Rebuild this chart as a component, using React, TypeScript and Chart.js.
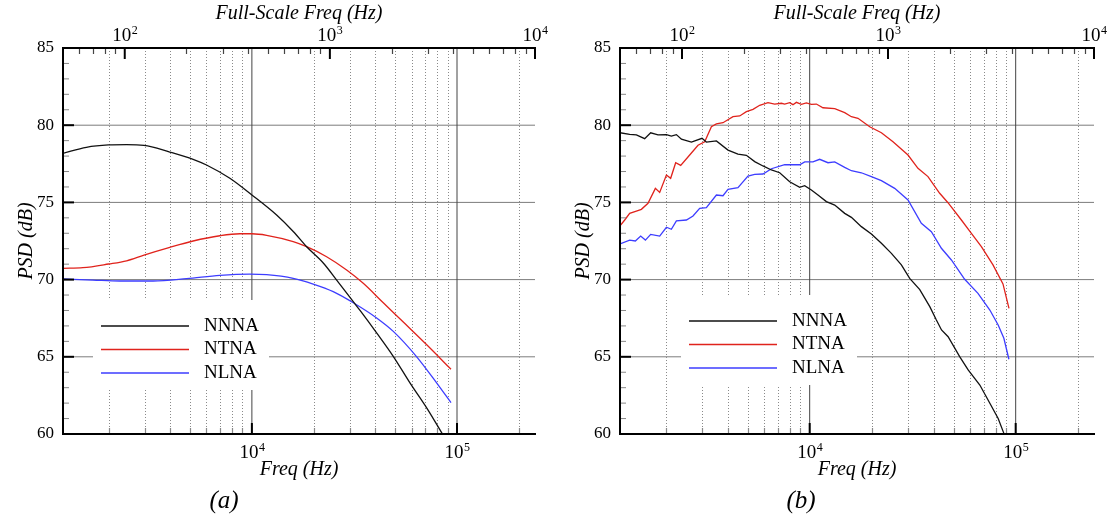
import React, { useEffect, useRef } from 'react';
import { Chart, registerables } from 'chart.js';

Chart.register(...registerables);

const FONT = "'Liberation Serif', 'Times New Roman', Times, serif";
Chart.defaults.font.family = FONT;

// ---------- data ----------
const SERIES_LABELS = ['NNNA', 'NTNA', 'NLNA'];
const SERIES_COLORS = ['#111111', '#e0231c', '#3d3dff'];

const psdTicks = [60, 65, 70, 75, 80, 85];
const freqTickLabels = [1e4, 1e5];
const fullScaleTickLabels = [1e2, 1e3, 1e4];
const FREQ_MIN = 1200;
const FREQ_MAX = 240000;
const FULL_SCALE_RATIO = 24;

// panel (a)
const aNNNAFreq = [1200, 1560, 2000, 2450, 2980, 3980, 5170, 6010, 7810, 10000, 13200, 15950, 18490, 22340, 25900, 31200, 33740, 40720, 49060, 59180, 71390, 84530];
const aNNNAPsd = [78.18, 78.57, 78.72, 78.74, 78.70, 78.26, 77.79, 77.42, 76.56, 75.48, 74.18, 73.10, 72.13, 71.06, 69.97, 68.57, 67.99, 66.52, 65.00, 63.28, 61.66, 60.04];

const aNTNAFreq = [1200, 1500, 2000, 2450, 2980, 3980, 5170, 6980, 8740, 10000, 11800, 15900, 18490, 23140, 28970, 34910, 43710, 54710, 71390, 93480];
const aNTNAPsd = [70.73, 70.77, 71.01, 71.22, 71.59, 72.09, 72.50, 72.84, 72.97, 72.97, 72.87, 72.46, 72.13, 71.48, 70.62, 69.76, 68.50, 67.25, 65.76, 64.19];

const aNLNAFreq = [1200, 1680, 2270, 3300, 4800, 6980, 9780, 11800, 15900, 19910, 24920, 31200, 40720, 49060, 63620, 79860, 93480];
const aNLNAPsd = [70.04, 69.97, 69.91, 69.91, 70.06, 70.28, 70.36, 70.32, 70.08, 69.71, 69.22, 68.50, 67.50, 66.63, 65.00, 63.28, 62.03];

// panel (b)
const bNNNAFreq = [1200, 1337, 1441, 1581, 1691, 1835, 2016, 2131, 2254, 2384, 2666, 3001, 3151, 3525, 4013, 4486, 4928, 5408, 5933, 6520, 7152, 7996, 8944, 9457, 10190, 10970, 12050, 13230, 14790, 15940, 17820, 19930, 22290, 24930, 27870, 30580, 34230, 38290, 41210, 43650, 46990, 53560, 58790, 66990, 74920, 82220, 87640];
const bNNNAPsd = [79.51, 79.41, 79.37, 79.13, 79.51, 79.37, 79.39, 79.30, 79.39, 79.09, 78.91, 79.15, 78.91, 78.98, 78.39, 78.13, 78.05, 77.64, 77.36, 77.10, 76.92, 76.34, 75.98, 76.08, 75.80, 75.48, 75.05, 74.83, 74.29, 74.03, 73.43, 72.95, 72.35, 71.70, 70.95, 70.08, 69.35, 68.25, 67.38, 66.74, 66.30, 65.00, 64.15, 63.17, 61.99, 61.00, 60.04];

const bNTNAFreq = [1200, 1265, 1337, 1441, 1524, 1641, 1782, 1870, 2016, 2114, 2236, 2365, 2615, 2870, 3093, 3333, 3525, 3794, 4243, 4574, 4928, 5307, 5719, 6275, 6763, 7288, 7561, 7996, 8296, 8618, 9113, 9638, 10190, 10780, 11600, 13230, 14790, 15940, 17160, 19560, 22290, 25380, 30010, 33550, 37520, 42760, 46920, 54500, 60950, 68150, 77600, 86770, 92800];
const bNTNAPsd = [73.49, 73.86, 74.29, 74.44, 74.55, 74.94, 75.91, 75.65, 76.77, 76.56, 77.57, 77.40, 78.07, 78.70, 78.93, 79.90, 80.08, 80.16, 80.55, 80.60, 80.88, 81.03, 81.29, 81.46, 81.37, 81.42, 81.37, 81.46, 81.33, 81.48, 81.35, 81.44, 81.35, 81.37, 81.13, 81.07, 80.81, 80.55, 80.45, 79.90, 79.51, 78.93, 78.07, 77.21, 76.67, 75.59, 74.98, 73.86, 73.00, 72.13, 70.95, 69.72, 68.14];

const bNLNAFreq = [1200, 1337, 1425, 1512, 1594, 1691, 1870, 2016, 2131, 2254, 2521, 2714, 2924, 3151, 3525, 3794, 4013, 4486, 5017, 5408, 5933, 6520, 7561, 8944, 9457, 10370, 11180, 12270, 13230, 14790, 15940, 17820, 19930, 22290, 25860, 30010, 34840, 38970, 43590, 48740, 56550, 65610, 74920, 82220, 87640, 92700];
const bNLNAPsd = [72.31, 72.56, 72.50, 72.82, 72.56, 72.93, 72.82, 73.39, 73.26, 73.80, 73.86, 74.12, 74.62, 74.66, 75.48, 75.43, 75.85, 75.95, 76.71, 76.82, 76.84, 77.18, 77.44, 77.44, 77.62, 77.62, 77.79, 77.57, 77.62, 77.27, 77.05, 76.92, 76.67, 76.41, 75.91, 75.16, 73.65, 73.10, 72.03, 71.27, 70.02, 69.11, 68.03, 67.06, 66.20, 64.84];

// ---------- layout / style ----------
type Series = { freq: number[]; psd: number[] };
type Panel = {
  tag: string;
  width: number;
  yAxisWidth: number;
  padRight: number;
  yTitlePad: number;
  legendDx: number;
  legendDy: number;
  tagX: number;
  smooth: boolean;
  series: Series[];
};

const PANELS: Panel[] = [
  {
    tag: '(a)', width: 555, yAxisWidth: 63, padRight: 20, yTitlePad: 15,
    legendDx: 38, legendDy: 278, tagX: 224, smooth: true,
    series: [
      { freq: aNNNAFreq, psd: aNNNAPsd },
      { freq: aNTNAFreq, psd: aNTNAPsd },
      { freq: aNLNAFreq, psd: aNLNAPsd },
    ],
  },
  {
    tag: '(b)', width: 556, yAxisWidth: 65, padRight: 17, yTitlePad: 17,
    legendDx: 69, legendDy: 273, tagX: 246, smooth: false,
    series: [
      { freq: bNNNAFreq, psd: bNNNAPsd },
      { freq: bNTNAFreq, psd: bNTNAPsd },
      { freq: bNLNAFreq, psd: bNLNAPsd },
    ],
  },
];

function logTicks(min: number, max: number) {
  const major: number[] = [];
  const minor: number[] = [];
  const e0 = Math.floor(Math.log10(min));
  const e1 = Math.ceil(Math.log10(max));
  for (let e = e0; e <= e1; e++) {
    for (let m = 1; m <= 9; m++) {
      const v = m * Math.pow(10, e);
      if (v <= min * 1.0001 || v > max * 1.0001) continue;
      if (m === 1) major.push(v);
      else minor.push(v);
    }
  }
  return { major, minor };
}

function seg(ctx: CanvasRenderingContext2D, x1: number, y1: number, x2: number, y2: number) {
  ctx.beginPath();
  ctx.moveTo(x1, y1);
  ctx.lineTo(x2, y2);
  ctx.stroke();
}

function drawPow(ctx: CanvasRenderingContext2D, px: number, baseline: number, value: number) {
  const exp = String(Math.round(Math.log10(value)));
  ctx.font = `19px ${FONT}`;
  const w1 = ctx.measureText('10').width;
  ctx.font = `12px ${FONT}`;
  const w2 = ctx.measureText(exp).width;
  const x0 = px - (w1 + w2) / 2;
  ctx.textAlign = 'left';
  ctx.textBaseline = 'alphabetic';
  ctx.fillStyle = '#000';
  ctx.font = `19px ${FONT}`;
  ctx.fillText('10', x0, baseline);
  ctx.font = `12px ${FONT}`;
  ctx.fillText(exp, x0 + w1 + 0.5, baseline - 7.5);
}

const LEG_ROW = 23.5;
const LEG_LINE = 88;

function framePlugin(panel: Panel) {
  return {
    id: 'tecFrame',
    beforeDatasetsDraw(chart: any) {
      const { ctx, chartArea: a } = chart;
      const xs = chart.scales.x;
      const ys = chart.scales.y;
      ctx.save();
      // horizontal grid
      ctx.lineWidth = 1;
      ctx.strokeStyle = '#7c7c7c';
      psdTicks.forEach((v) => {
        if (v > ys.min && v < ys.max) {
          const py = ys.getPixelForValue(v);
          seg(ctx, a.left, py, a.right, py);
        }
      });
      const { major, minor } = logTicks(xs.min, xs.max);
      ctx.setLineDash([1, 2]);
      ctx.strokeStyle = '#8a8a8a';
      minor.forEach((v) => {
        const px = Math.round(xs.getPixelForValue(v)) + 0.5;
        seg(ctx, px, a.top, px, a.bottom);
      });
      ctx.setLineDash([]);
      ctx.strokeStyle = '#444';
      major.forEach((v) => {
        const px = xs.getPixelForValue(v);
        seg(ctx, px, a.top, px, a.bottom);
      });
      // legend background
      const lx = a.left + panel.legendDx;
      const ly = a.top + panel.legendDy;
      ctx.fillStyle = '#fff';
      ctx.fillRect(lx - 8, ly - 26, 176, 26 + 2 * LEG_ROW + 17);
      ctx.restore();
    },
    afterDatasetsDraw(chart: any) {
      const { ctx, chartArea: a } = chart;
      const xs = chart.scales.x;
      const xt = chart.scales.xTop;
      const ys = chart.scales.y;
      ctx.save();
      // legend
      const lx = a.left + panel.legendDx;
      const ly = a.top + panel.legendDy;
      chart.data.datasets.forEach((ds: any, i: number) => {
        const y = ly + i * LEG_ROW;
        ctx.strokeStyle = ds.borderColor;
        ctx.lineWidth = 1.4;
        seg(ctx, lx, y, lx + LEG_LINE, y);
        ctx.fillStyle = '#000';
        ctx.font = `19px ${FONT}`;
        ctx.textAlign = 'left';
        ctx.textBaseline = 'middle';
        ctx.fillText(ds.label, lx + LEG_LINE + 15, y);
      });
      // y ticks (inward)
      for (let v = ys.min; v <= ys.max; v += 1) {
        const py = ys.getPixelForValue(v);
        if (v % 5 === 0) {
          ctx.strokeStyle = '#000';
          ctx.lineWidth = 2;
          seg(ctx, a.left, py, a.left + 11, py);
        } else {
          ctx.strokeStyle = '#888';
          ctx.lineWidth = 1;
          seg(ctx, a.left, py, a.left + 6, py);
        }
      }
      // bottom ticks
      const bt = logTicks(xs.min, xs.max);
      ctx.strokeStyle = '#888';
      ctx.lineWidth = 1.2;
      bt.minor.forEach((v) => {
        const px = Math.round(xs.getPixelForValue(v)) + 0.5;
        seg(ctx, px, a.bottom, px, a.bottom - 6);
      });
      ctx.strokeStyle = '#000';
      ctx.lineWidth = 2;
      bt.major.forEach((v) => {
        const px = xs.getPixelForValue(v);
        seg(ctx, px, a.bottom, px, a.bottom - 11);
      });
      // top ticks
      const tt = logTicks(xt.min, xt.max * 1.0001);
      ctx.strokeStyle = '#444';
      ctx.lineWidth = 1.2;
      tt.minor.forEach((v) => {
        const px = Math.round(xt.getPixelForValue(v)) + 0.5;
        seg(ctx, px, a.top, px, a.top + 6);
      });
      ctx.strokeStyle = '#000';
      ctx.lineWidth = 2;
      tt.major.forEach((v) => {
        const px = xt.getPixelForValue(v);
        seg(ctx, px, a.top, px, a.top + 11);
      });
      // axis lines
      ctx.strokeStyle = '#000';
      ctx.lineWidth = 2;
      seg(ctx, a.left, a.top - 1, a.left, a.bottom + 1);
      seg(ctx, a.left - 1, a.top, a.right + 1, a.top);
      seg(ctx, a.left - 1, a.bottom, a.right + 1, a.bottom);
      // tick labels with exponents
      freqTickLabels.forEach((v) => drawPow(ctx, xs.getPixelForValue(v), a.bottom + 24, v));
      fullScaleTickLabels.forEach((v) => drawPow(ctx, xt.getPixelForValue(v), a.top - 7, v));
      // panel tag
      ctx.fillStyle = '#000';
      ctx.font = `italic 25px ${FONT}`;
      ctx.textAlign = 'center';
      ctx.textBaseline = 'middle';
      ctx.fillText(panel.tag, panel.tagX, 501);
      ctx.restore();
    },
  };
}

function makeChart(canvas: HTMLCanvasElement, panel: Panel) {
  const titleFont = { family: FONT, size: 20, style: 'italic' as const };
  const datasets = panel.series.map((s, i) => ({
    label: SERIES_LABELS[i],
    data: s.freq.map((f, j) => ({ x: f, y: s.psd[j] })),
    borderColor: SERIES_COLORS[i],
    backgroundColor: SERIES_COLORS[i],
    borderWidth: 1.3,
    pointRadius: 0,
    fill: false,
    tension: 0,
    cubicInterpolationMode: panel.smooth ? 'monotone' : 'default',
  }));
  return new Chart(canvas, {
    type: 'line',
    data: { datasets } as any,
    plugins: [framePlugin(panel)],
    options: {
      responsive: false,
      animation: false,
      layout: { padding: { left: 0, right: panel.padRight, top: 0, bottom: 0 } },
      plugins: { legend: { display: false }, tooltip: { enabled: false } },
      scales: {
        x: {
          type: 'logarithmic',
          position: 'bottom',
          min: FREQ_MIN,
          max: FREQ_MAX,
          ticks: { display: false },
          grid: { display: false, drawTicks: false },
          border: { display: false },
          title: { display: true, text: 'Freq (Hz)', font: titleFont, color: '#000', padding: { top: 0, bottom: 36 } },
          afterFit: (s: any) => { s.height = 84; },
        },
        xTop: {
          type: 'logarithmic',
          position: 'top',
          min: FREQ_MIN / FULL_SCALE_RATIO,
          max: FREQ_MAX / FULL_SCALE_RATIO,
          ticks: { display: false },
          grid: { display: false, drawTicks: false },
          border: { display: false },
          title: { display: true, text: 'Full-Scale Freq (Hz)', font: titleFont, color: '#000', padding: { top: 2, bottom: 0 } },
          afterFit: (s: any) => { s.height = 48; },
        },
        y: {
          type: 'linear',
          position: 'left',
          min: 60,
          max: 85,
          ticks: { stepSize: 5, font: { family: FONT, size: 17 }, color: '#000', padding: 9 },
          grid: { display: false, drawTicks: false },
          border: { display: false },
          title: { display: true, text: 'PSD (dB)', font: titleFont, color: '#000', padding: { top: panel.yTitlePad, bottom: 0 } },
          afterFit: (s: any) => { s.width = panel.yAxisWidth; },
        },
      },
    } as any,
  });
}

export default function App() {
  const refA = useRef<HTMLCanvasElement>(null);
  const refB = useRef<HTMLCanvasElement>(null);
  useEffect(() => {
    const charts = [makeChart(refA.current!, PANELS[0]), makeChart(refB.current!, PANELS[1])];
    return () => charts.forEach((c) => c.destroy());
  }, []);
  return (
    <div style={{ position: 'absolute', left: 0, top: 0, width: 1111, height: 518, background: '#fff' }}>
      <canvas ref={refA} width={555} height={518} style={{ position: 'absolute', left: 0, top: 0 }} />
      <canvas ref={refB} width={556} height={518} style={{ position: 'absolute', left: 555, top: 0 }} />
    </div>
  );
}
